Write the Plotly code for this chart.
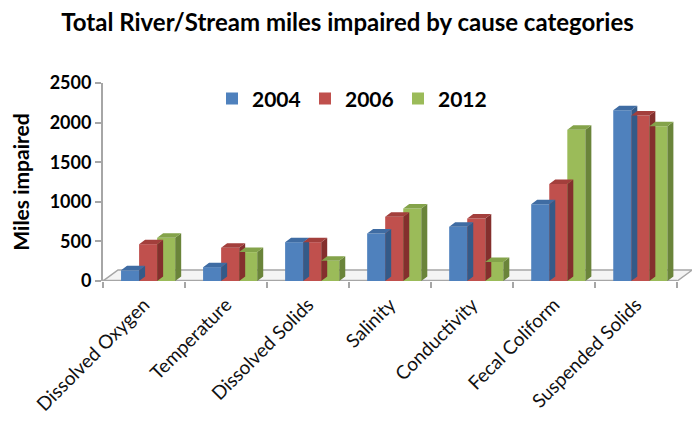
import plotly.graph_objects as go

# Impaired river/stream miles by cause category and assessment year
categories = ["Dissolved Oxygen", "Temperature", "Dissolved Solids", "Salinity",
              "Conductivity", "Fecal Coliform", "Suspended Solids"]
years = ["2004", "2006", "2012"]
miles_2004 = [135, 175, 490, 600, 685, 970, 2155]
miles_2006 = [465, 420, 490, 810, 790, 1225, 2090]
miles_2012 = [545, 365, 255, 915, 240, 1910, 1955]
y_ticks = [0, 500, 1000, 1500, 2000, 2500]

series = [miles_2004, miles_2006, miles_2012]
front = ["#4F81BD", "#C0504D", "#9BBB59"]
top = ["#3F6CA3", "#A33F3C", "#84A34A"]
side = ["#345A88", "#842F2D", "#6A843A"]
offsets = [-0.28, -0.06, 0.16]
bar_w = 0.22

FONT = "Lato"
W, H = 695, 428
L, R, T, B = 103, 3, 83, 147
x_range = [-0.5, 6.68]
y_range = [0, 2500]
px_x = (W - L - R) / (x_range[1] - x_range[0])   # pixels per category unit
px_y = (H - T - B) / (y_range[1] - y_range[0])   # pixels per mile

def dx(p):
    return p / px_x

def dy(p):
    return p / px_y

xs = list(range(len(categories)))
fig = go.Figure()

# floor slab under the bars
fx0, fx1 = -0.5, 6.5
fdx, fdy = dx(15), dy(11)
fig.add_shape(type="path",
              path=f"M {fx0},0 L {fx1},0 L {fx1+fdx},{fdy} L {fx0+fdx},{fdy} Z",
              xref="x", yref="y", fillcolor="#F4F4F4",
              line=dict(color="#A6A6A6", width=1.5), layer="below")
fig.add_shape(type="line", x0=fx0, x1=fx1, y0=0, y1=0, xref="x", yref="y",
              line=dict(color="#A6A6A6", width=2.5), layer="below")

bdx, bdy = dx(6), dy(4.5)
for i, vals in enumerate(series):
    fig.add_trace(go.Bar(
        x=xs, y=vals, name=years[i], width=bar_w, offset=offsets[i],
        marker=dict(color=front[i], line=dict(width=0)),
        hovertemplate="%{y}<extra>" + years[i] + "</extra>",
    ))
    # depth faces: right side and top cap of each bar
    sx, sy, tx, ty = [], [], [], []
    for x, v in zip(xs, vals):
        xl = x + offsets[i]
        xr = xl + bar_w
        sx += [xr, xr + bdx, xr + bdx, xr, xr, None]
        sy += [0, bdy, v + bdy, v, 0, None]
        tx += [xl, xl + bdx, xr + bdx, xr, xl, None]
        ty += [v, v + bdy, v + bdy, v, v, None]
    fig.add_trace(go.Scatter(x=sx, y=sy, mode="lines", fill="toself",
                             fillcolor=side[i], line=dict(width=0, color=side[i]),
                             showlegend=False, hoverinfo="skip"))
    fig.add_trace(go.Scatter(x=tx, y=ty, mode="lines", fill="toself",
                             fillcolor=top[i], line=dict(width=0, color=top[i]),
                             showlegend=False, hoverinfo="skip"))

fig.update_layout(
    width=W, height=H,
    margin=dict(l=L, r=R, t=T, b=B),
    paper_bgcolor="white", plot_bgcolor="white",
    font=dict(family=FONT, color="#000000"),
    title=dict(text="<b>Total River/Stream miles impaired by cause categories</b>",
               x=0.5, xanchor="center", y=0.948, yanchor="middle",
               font=dict(size=24, family=FONT)),
    barmode="overlay",
    showlegend=True,
    legend=dict(orientation="h", x=(212 - L) / (W - L - R), xanchor="left",
                y=0.92, yanchor="middle", xref="paper", yref="paper",
                font=dict(size=21, family=FONT, weight="bold"),
                bgcolor="rgba(0,0,0,0)", traceorder="normal",
                entrywidth=48, itemwidth=30),
)

fig.update_xaxes(
    range=x_range, tickmode="array", tickvals=xs, ticktext=categories,
    tickangle=-45, ticks="", showline=False, showgrid=False, zeroline=False,
    tickfont=dict(size=19, family=FONT, color="#111111"),
    ticklabelstandoff=8,
    minor=dict(tickmode="array", tickvals=[k - 0.5 for k in range(len(categories) + 1)],
               ticks="outside", ticklen=6, tickcolor="#A6A6A6", tickwidth=2, showgrid=False),
    fixedrange=True,
)
fig.update_yaxes(
    range=y_range, tickmode="array", tickvals=y_ticks,
    ticks="outside", ticklen=6, tickcolor="#A6A6A6", tickwidth=2,
    showline=True, linecolor="#A6A6A6", linewidth=2,
    showgrid=False, zeroline=False,
    tickfont=dict(size=18, family=FONT, weight="bold"),
    title=dict(text="<b>Miles impaired</b>", font=dict(size=21, family=FONT), standoff=14),
    fixedrange=True,
)

fig.write_html("out.html")
